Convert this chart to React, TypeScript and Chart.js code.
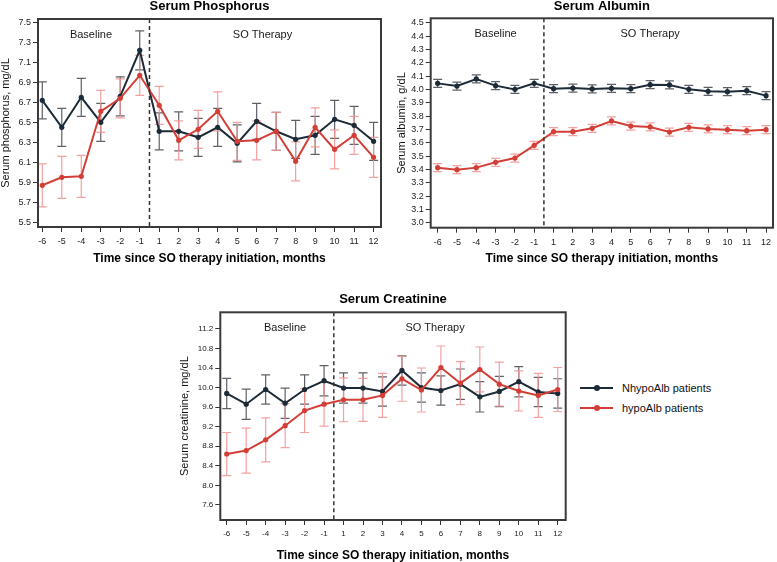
import React, { useEffect, useRef } from "react";
import { Chart, registerables } from "chart.js";

Chart.register(...registerables);

// ---------- data ----------
const monthLabels = ["-6", "-5", "-4", "-3", "-2", "-1", "1", "2", "3", "4", "5", "6", "7", "8", "9", "10", "11", "12"];
const seriesNames = ["NhypoAlb patients", "hypoAlb patients"];
const regionLabels = ["Baseline", "SO Therapy"];
const xAxisTitle = "Time since SO therapy initiation, months";

const phosTicks = [5.5, 5.7, 5.9, 6.1, 6.3, 6.5, 6.7, 6.9, 7.1, 7.3, 7.5];
const phosNhypo = [6.72, 6.45, 6.75, 6.5, 6.76, 7.22, 6.41, 6.41, 6.35, 6.45, 6.29, 6.51, 6.41, 6.33, 6.37, 6.53, 6.47, 6.31];
const phosNhypoSE = [0.185, 0.19, 0.19, 0.19, 0.195, 0.195, 0.185, 0.195, 0.19, 0.19, 0.185, 0.18, 0.19, 0.19, 0.19, 0.19, 0.19, 0.19];
const phosHypo = [5.87, 5.95, 5.96, 6.61, 6.74, 6.97, 6.67, 6.32, 6.43, 6.61, 6.31, 6.32, 6.41, 6.11, 6.45, 6.23, 6.37, 6.15];
const phosHypoSE = [0.215, 0.21, 0.21, 0.21, 0.195, 0.2, 0.19, 0.195, 0.19, 0.195, 0.19, 0.195, 0.19, 0.195, 0.195, 0.195, 0.19, 0.2];

const albTicks = [3.0, 3.1, 3.2, 3.3, 3.4, 3.5, 3.6, 3.7, 3.8, 3.9, 4.0, 4.1, 4.2, 4.3, 4.4, 4.5];
const albNhypo = [4.045, 4.025, 4.078, 4.028, 4.0, 4.045, 4.005, 4.01, 4.003, 4.008, 4.005, 4.035, 4.033, 4.0, 3.985, 3.983, 3.99, 3.953];
const albNhypoSE = [0.03, 0.03, 0.03, 0.03, 0.03, 0.03, 0.03, 0.03, 0.03, 0.03, 0.03, 0.03, 0.03, 0.03, 0.03, 0.03, 0.03, 0.03];
const albHypo = [3.413, 3.398, 3.413, 3.453, 3.485, 3.58, 3.683, 3.683, 3.708, 3.763, 3.725, 3.718, 3.68, 3.715, 3.703, 3.698, 3.69, 3.698];
const albHypoSE = [0.03, 0.03, 0.03, 0.03, 0.03, 0.03, 0.03, 0.03, 0.03, 0.03, 0.03, 0.03, 0.03, 0.03, 0.03, 0.03, 0.03, 0.03];

const creatTicks = [7.6, 8.0, 8.4, 8.8, 9.2, 9.6, 10.0, 10.4, 10.8, 11.2];
const creatNhypo = [9.88, 9.66, 9.96, 9.68, 9.96, 10.14, 9.99, 9.99, 9.92, 10.35, 10.0, 9.94, 10.07, 9.81, 9.92, 10.12, 9.91, 9.88];
const creatNhypoSE = [0.31, 0.31, 0.3, 0.31, 0.3, 0.31, 0.31, 0.31, 0.3, 0.3, 0.3, 0.3, 0.31, 0.31, 0.31, 0.31, 0.3, 0.3];
const creatHypo = [8.64, 8.71, 8.93, 9.22, 9.53, 9.66, 9.75, 9.75, 9.84, 10.18, 9.95, 10.41, 10.09, 10.37, 10.07, 9.93, 9.84, 9.96];
const creatHypoSE = [0.44, 0.46, 0.45, 0.45, 0.45, 0.45, 0.45, 0.44, 0.45, 0.46, 0.45, 0.44, 0.44, 0.46, 0.45, 0.41, 0.45, 0.45];

// ---------- styles ----------
const FONT = "'Liberation Sans', Arial, Helvetica, sans-serif";
const DARK = "#1c2b37";
const RED = "#d33f37";
const DARK_ERR = "rgba(75,80,86,0.9)";
const RED_ERR = "rgba(242,150,150,0.9)";
const FRAME = "#3a3a3a";

const decorPlugin = {
  id: "decor",
  beforeDatasetsDraw(chart: any) {
    const { ctx, scales } = chart;
    const xs = scales.x;
    const ys = scales.y;
    const sets = chart.data.datasets.slice().reverse();
    sets.forEach((ds: any) => {
      const err = ds.errors;
      if (!err) return;
      ctx.save();
      ctx.strokeStyle = ds.errorColor;
      ctx.lineWidth = 1.2;
      ds.data.forEach((pt: any, i: number) => {
        const x = xs.getPixelForValue(pt.x);
        const yT = ys.getPixelForValue(pt.y + err[i]);
        const yB = ys.getPixelForValue(pt.y - err[i]);
        ctx.beginPath();
        ctx.moveTo(x, yT);
        ctx.lineTo(x, yB);
        ctx.moveTo(x - 4.5, yT);
        ctx.lineTo(x + 4.5, yT);
        ctx.moveTo(x - 4.5, yB);
        ctx.lineTo(x + 4.5, yB);
        ctx.stroke();
      });
      ctx.restore();
    });
  },
  afterDatasetsDraw(chart: any, _args: any, opts: any) {
    const { ctx, chartArea, scales } = chart;
    const xs = scales.x;
    ctx.save();
    // dashed divider between baseline and therapy
    const xd = xs.getPixelForValue(opts.dividerAt);
    ctx.strokeStyle = "#333";
    ctx.lineWidth = 1.5;
    ctx.setLineDash([4, 3]);
    ctx.beginPath();
    ctx.moveTo(xd, chartArea.top);
    ctx.lineTo(xd, chartArea.bottom);
    ctx.stroke();
    ctx.setLineDash([]);
    // region labels
    ctx.fillStyle = "#1a1a1a";
    ctx.font = `11px ${FONT}`;
    ctx.textAlign = "center";
    ctx.textBaseline = "middle";
    regionLabels.forEach((t, i) => {
      ctx.fillText(t, xs.getPixelForValue(opts.regionX[i]), chartArea.top + 16);
    });
    // frame
    ctx.strokeStyle = FRAME;
    ctx.lineWidth = 2;
    ctx.strokeRect(chartArea.left, chartArea.top, chartArea.right - chartArea.left, chartArea.bottom - chartArea.top);
    ctx.restore();
  },
};

type PanelParams = {
  title: string;
  titlePad: { top: number; bottom: number };
  yTitle: string;
  yTitlePad: number;
  yMin: number;
  yMax: number;
  yTicks: number[];
  xMin: number;
  xMax: number;
  yWidth: number;
  xHeight: number;
  padding: { left: number; right: number; top: number; bottom: number };
  tickSize: number;
  nhypo: number[];
  nhypoSE: number[];
  hypo: number[];
  hypoSE: number[];
  regionX: number[];
};

function makeConfig(p: PanelParams): any {
  const grid = {
    drawOnChartArea: false,
    drawTicks: true,
    tickLength: 5,
    tickColor: "#333",
    tickWidth: 1,
  };
  const lineDs = (label: string, vals: number[], se: number[], color: string, errColor: string) => ({
    label,
    data: vals.map((v, i) => ({ x: i, y: v })),
    errors: se,
    errorColor: errColor,
    borderColor: color,
    backgroundColor: color,
    pointBackgroundColor: color,
    pointBorderColor: color,
    borderWidth: 2,
    pointRadius: 2.6,
    pointBorderWidth: 0,
    tension: 0,
  });
  return {
    type: "line",
    data: {
      datasets: [
        lineDs(seriesNames[1], p.hypo, p.hypoSE, RED, RED_ERR),
        lineDs(seriesNames[0], p.nhypo, p.nhypoSE, DARK, DARK_ERR),
      ],
    },
    options: {
      responsive: false,
      maintainAspectRatio: false,
      animation: false,
      devicePixelRatio: 1,
      layout: { padding: p.padding },
      plugins: {
        legend: { display: false },
        tooltip: { enabled: false },
        title: {
          display: true,
          text: p.title,
          fullSize: false,
          color: "#000",
          font: { family: FONT, size: 13, weight: "bold", lineHeight: 1 },
          padding: p.titlePad,
        },
        decor: { regionX: p.regionX, dividerAt: 5.5 },
      },
      scales: {
        x: {
          type: "linear",
          min: p.xMin,
          max: p.xMax,
          afterBuildTicks: (s: any) => {
            s.ticks = monthLabels.map((_, i) => ({ value: i }));
          },
          afterFit: (s: any) => {
            s.height = p.xHeight;
          },
          ticks: {
            autoSkip: false,
            maxRotation: 0,
            padding: 4,
            color: "#222",
            font: { family: FONT, size: p.tickSize },
            callback: (v: any) => monthLabels[Math.round(Number(v))] ?? "",
          },
          grid,
          border: { display: false },
          title: {
            display: true,
            text: xAxisTitle,
            color: "#000",
            font: { family: FONT, size: 12, weight: "bold", lineHeight: 1 },
            padding: { top: 0, bottom: 0 },
          },
        },
        y: {
          type: "linear",
          min: p.yMin,
          max: p.yMax,
          afterBuildTicks: (s: any) => {
            s.ticks = p.yTicks.map((v) => ({ value: v }));
          },
          afterFit: (s: any) => {
            s.width = p.yWidth;
          },
          ticks: {
            padding: 2,
            color: "#222",
            font: { family: FONT, size: p.tickSize },
            callback: (v: any) => Number(v).toFixed(1),
          },
          grid,
          border: { display: false },
          title: {
            display: true,
            text: p.yTitle,
            color: "#111",
            font: { family: FONT, size: 11, lineHeight: 1 },
            padding: { top: p.yTitlePad, bottom: 0 },
          },
        },
      },
    },
    plugins: [decorPlugin],
  };
}

function Panel(props: { left: number; top: number; width: number; height: number; params: PanelParams }) {
  const ref = useRef<HTMLCanvasElement | null>(null);
  useEffect(() => {
    if (!ref.current) return;
    const chart = new Chart(ref.current, makeConfig(props.params));
    return () => chart.destroy();
  }, []);
  return (
    <canvas
      ref={ref}
      width={props.width}
      height={props.height}
      style={{ position: "absolute", left: props.left, top: props.top, width: props.width, height: props.height }}
    />
  );
}

const phosParams: PanelParams = {
  title: "Serum Phosphorus",
  titlePad: { top: 0, bottom: 6 },
  yTitle: "Serum phosphorus, mg/dL",
  yTitlePad: 0.5,
  yMin: 5.453,
  yMax: 7.533,
  yTicks: phosTicks,
  xMin: -0.22,
  xMax: 17.38,
  yWidth: 38,
  xHeight: 38,
  padding: { left: 0, right: 9, top: 0, bottom: 10 },
  tickSize: 9,
  nhypo: phosNhypo,
  nhypoSE: phosNhypoSE,
  hypo: phosHypo,
  hypoSE: phosHypoSE,
  regionX: [2.5, 11.3],
};

const albParams: PanelParams = {
  title: "Serum Albumin",
  titlePad: { top: 0, bottom: 5.3 },
  yTitle: "Serum albumin, g/dL",
  yTitlePad: 6.2,
  yMin: 2.9625,
  yMax: 4.533,
  yTicks: albTicks,
  xMin: -0.36,
  xMax: 17.36,
  yWidth: 40.7,
  xHeight: 37.3,
  padding: { left: 0, right: 1, top: 0, bottom: 10 },
  tickSize: 9,
  nhypo: albNhypo,
  nhypoSE: albNhypoSE,
  hypo: albHypo,
  hypoSE: albHypoSE,
  regionX: [3.0, 11.0],
};

const creatParams: PanelParams = {
  title: "Serum Creatinine",
  titlePad: { top: 12.5, bottom: 6.8 },
  yTitle: "Serum creatinine, mg/dL",
  yTitlePad: 19.5,
  yMin: 7.29,
  yMax: 11.54,
  yTicks: creatTicks,
  xMin: -0.33,
  xMax: 17.41,
  yWidth: 60.3,
  xHeight: 41.7,
  padding: { left: 0, right: 14.3, top: 0, bottom: 0.3 },
  tickSize: 8,
  nhypo: creatNhypo,
  nhypoSE: creatNhypoSE,
  hypo: creatHypo,
  hypoSE: creatHypoSE,
  regionX: [3.0, 10.7],
};

function LegendRow(props: { y: number; color: string; label: string }) {
  return (
    <div style={{ position: "absolute", left: 580, top: props.y - 8, height: 16, width: 150 }}>
      <div style={{ position: "absolute", left: 0, top: 7, width: 33, height: 2, background: props.color }} />
      <div
        style={{
          position: "absolute",
          left: 14,
          top: 5,
          width: 6,
          height: 6,
          borderRadius: 3,
          background: props.color,
        }}
      />
      <div
        style={{
          position: "absolute",
          left: 42,
          top: 0,
          height: 16,
          lineHeight: "16px",
          fontFamily: FONT,
          fontSize: 11,
          color: "#111",
          whiteSpace: "nowrap",
        }}
      >
        {props.label}
      </div>
    </div>
  );
}

export default function App() {
  return (
    <div
      style={{
        position: "absolute",
        left: 0,
        top: 0,
        width: 777,
        height: 562,
        overflow: "hidden",
        background: "#fff",
      }}
    >
      <Panel left={0} top={0} width={390} height={275} params={phosParams} />
      <Panel left={390} top={0} width={387} height={275} params={albParams} />
      <Panel left={160} top={280} width={420} height={282} params={creatParams} />
      <LegendRow y={387.5} color={DARK} label={seriesNames[0]} />
      <LegendRow y={407.8} color={RED} label={seriesNames[1]} />
    </div>
  );
}
